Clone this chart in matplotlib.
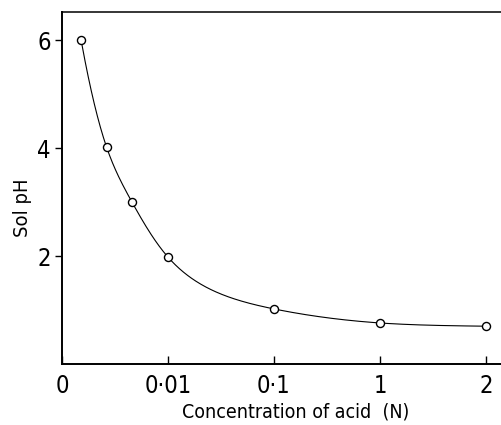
import numpy as np
import matplotlib
matplotlib.use("Agg")
import matplotlib.pyplot as plt

# acid concentration (N), plotted at evenly spaced positions
tick_labels = ["0", "0·01", "0·1", "1", "2"]
tick_pos = [0, 1, 2, 3, 4]
x_pos = [0.18, 0.42, 0.66, 1.0, 2.0, 3.0, 4.0]
ph = [6.0, 4.02, 3.0, 1.98, 1.02, 0.76, 0.70]


def natural_spline(x, y, xs):
    # natural cubic spline through the points, for the smooth line
    x = np.asarray(x, float)
    y = np.asarray(y, float)
    n = len(x)
    h = np.diff(x)
    A = np.zeros((n, n))
    b = np.zeros(n)
    A[0, 0] = A[-1, -1] = 1
    for i in range(1, n - 1):
        A[i, i - 1] = h[i - 1]
        A[i, i] = 2 * (h[i - 1] + h[i])
        A[i, i + 1] = h[i]
        b[i] = 6 * ((y[i + 1] - y[i]) / h[i] - (y[i] - y[i - 1]) / h[i - 1])
    M = np.linalg.solve(A, b)
    idx = np.clip(np.searchsorted(x, xs) - 1, 0, n - 2)
    t0 = x[idx + 1] - xs
    t1 = xs - x[idx]
    hi = h[idx]
    return (M[idx] * t0**3 / (6 * hi) + M[idx + 1] * t1**3 / (6 * hi)
            + (y[idx] / hi - M[idx] * hi / 6) * t0
            + (y[idx + 1] / hi - M[idx + 1] * hi / 6) * t1)


plt.rcParams["font.family"] = ["DejaVu Sans"]
plt.rcParams["font.stretch"] = "condensed"

fig = plt.figure(figsize=(5.02, 4.25), dpi=100)
ax = fig.add_axes([62 / 502, 61 / 425, 441 / 502, 352 / 425])

# spline on log(pH) keeps the curve convex and free of wiggles
xs = np.linspace(x_pos[0], x_pos[-1], 400)
ax.plot(xs, np.exp(natural_spline(x_pos, np.log(ph), xs)), color="black", lw=0.8)
ax.plot(x_pos, ph, "o", ms=5.8, mfc="white", mec="black", mew=1.0)

ax.set_xlim(0, 441 / 106)
ax.set_ylim(0, 6.52)

ax.spines["right"].set_visible(False)
for s in ["left", "bottom"]:
    ax.spines[s].set_linewidth(1.4)
ax.spines["top"].set_linewidth(1.1)

ax.set_xticks(tick_pos)
ax.set_xticklabels(tick_labels, fontsize=17)
ax.set_yticks([2, 4, 6])
ax.set_yticklabels(["2", "4", "6"], fontsize=17)
ax.tick_params(axis="x", direction="in", length=6, width=1, pad=7)
ax.tick_params(axis="y", direction="out", length=5, width=1, pad=3)

fig.text(22 / 502, 1 - 208 / 425, "Sol pH", rotation=90, fontsize=14.5,
         ha="center", va="center")
fig.text(296 / 502, 1 - 412 / 425, "Concentration of acid  (N)", fontsize=14,
         ha="center", va="center")

fig.savefig("out.png", dpi=100)
